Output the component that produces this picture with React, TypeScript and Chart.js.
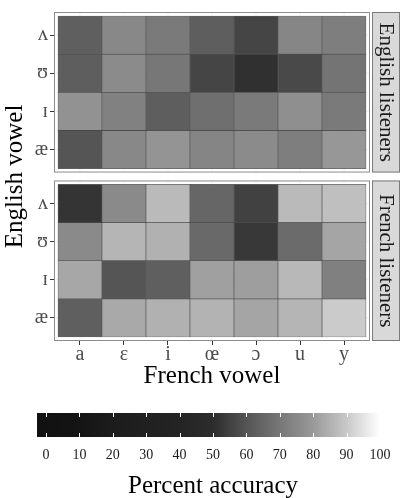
import React, { useEffect, useRef } from 'react';
import { Chart, registerables } from 'chart.js';

Chart.register(...registerables);

// ---------- data ----------
const frenchVowels = ['a', 'ɛ', 'i', 'œ', 'ɔ', 'u', 'y'];
const englishVowels = ['æ', 'ɪ', 'ʊ', 'ʌ']; // bottom to top
const panelNames = ['English listeners', 'French listeners'];

// percent accuracy, rows follow englishVowels, columns follow frenchVowels
const englishListeners = [
  [60, 75, 78.5, 74, 76, 72, 79.5],
  [78, 73, 62.5, 67.5, 71, 77, 71],
  [62.5, 76, 70, 56, 51, 57, 69],
  [63, 75, 71, 62.5, 56, 74.5, 72],
];
const frenchListeners = [
  [63, 83.5, 85, 85.5, 82.5, 86, 90.5],
  [83, 60, 63, 81.5, 81, 86.5, 72.5],
  [75.5, 86, 85, 66, 53, 66.5, 82.5],
  [52, 75.5, 87, 65, 55, 87, 88],
];

const legendTicks = [0, 10, 20, 30, 40, 50, 60, 70, 80, 90, 100];
const legendGrays = [17, 20, 28, 32, 36, 44, 85, 119, 153, 200, 255];

// ---------- layout / style ----------
const SERIF = "'Liberation Serif', 'DejaVu Serif', serif";
const ROW_PAD = 0.104;
const COL_PAD = 0.09;
const PANEL_GAP = 0.208;
const panelOffsets = [4 + 2 * ROW_PAD + PANEL_GAP, 0]; // English on top, French below
const X_MIN = -0.5 - COL_PAD;
const X_MAX = frenchVowels.length - 0.5 + COL_PAD;
const Y_MIN = -0.5 - ROW_PAD;
const Y_MAX = panelOffsets[0] + englishVowels.length - 0.5 + ROW_PAD;
const LEGEND_MIN = -2.7;
const LEGEND_MAX = 102.7;

function grayLevel(v: number): number {
  if (v <= legendTicks[0]) return legendGrays[0];
  for (let i = 1; i < legendTicks.length; i++) {
    if (v <= legendTicks[i]) {
      const t = (v - legendTicks[i - 1]) / (legendTicks[i] - legendTicks[i - 1]);
      return Math.round(legendGrays[i - 1] + t * (legendGrays[i] - legendGrays[i - 1]));
    }
  }
  return legendGrays[legendGrays.length - 1];
}
function grayFor(v: number): string {
  const g = grayLevel(v);
  return `rgb(${g},${g},${g})`;
}

const panelValues = [englishListeners, frenchListeners];

function panelExtent(p: number): [number, number] {
  return [panelOffsets[p] - 0.5 - ROW_PAD, panelOffsets[p] + englishVowels.length - 0.5 + ROW_PAD];
}

const yTickValues: number[] = [];
const yTickLabels: string[] = [];
[1, 0].forEach((p) => {
  englishVowels.forEach((v, r) => {
    yTickValues.push(panelOffsets[p] + r);
    yTickLabels.push(v);
  });
});

const panelsPlugin = {
  id: 'panels',
  beforeDatasetsDraw(chart: any) {
    const { ctx, scales } = chart;
    const x = scales.x;
    const y = scales.y;
    panelValues.forEach((_, p) => {
      const [lo, hi] = panelExtent(p);
      const top = y.getPixelForValue(hi);
      const bottom = y.getPixelForValue(lo);
      const left = x.getPixelForValue(X_MIN);
      const right = x.getPixelForValue(X_MAX);
      ctx.save();
      ctx.fillStyle = '#ffffff';
      ctx.fillRect(left, top, right - left, bottom - top);
      ctx.strokeStyle = '#ebebeb';
      ctx.lineWidth = 0.6;
      frenchVowels.forEach((_v, c) => {
        const px = x.getPixelForValue(c);
        ctx.beginPath();
        ctx.moveTo(px, top);
        ctx.lineTo(px, bottom);
        ctx.stroke();
      });
      englishVowels.forEach((_v, r) => {
        const py = y.getPixelForValue(panelOffsets[p] + r);
        ctx.beginPath();
        ctx.moveTo(left, py);
        ctx.lineTo(right, py);
        ctx.stroke();
      });
      ctx.restore();
    });
  },
  afterDatasetsDraw(chart: any) {
    const { ctx, scales } = chart;
    const x = scales.x;
    const y = scales.y;
    panelValues.forEach((_, p) => {
      const [lo, hi] = panelExtent(p);
      const top = y.getPixelForValue(hi);
      const bottom = y.getPixelForValue(lo);
      const left = x.getPixelForValue(X_MIN);
      const right = x.getPixelForValue(X_MAX);
      ctx.save();
      ctx.strokeStyle = '#8c8c8c';
      ctx.lineWidth = 1;
      ctx.strokeRect(left + 0.5, top + 0.5, right - left - 1, bottom - top - 1);
      // strip
      const sx = right + 2;
      const sw = 28;
      ctx.fillStyle = '#d9d9d9';
      ctx.fillRect(sx, top, sw, bottom - top);
      ctx.strokeStyle = '#7a7a7a';
      ctx.strokeRect(sx + 0.5, top + 0.5, sw - 1, bottom - top - 1);
      ctx.translate(sx + sw / 2, (top + bottom) / 2);
      ctx.rotate(Math.PI / 2);
      ctx.fillStyle = '#1a1a1a';
      ctx.font = `21px ${SERIF}`;
      ctx.textAlign = 'center';
      ctx.textBaseline = 'middle';
      ctx.fillText(panelNames[p], 0, 0);
      ctx.restore();
    });
  },
};

const legendMarksPlugin = {
  id: 'legendMarks',
  afterDatasetsDraw(chart: any) {
    const { ctx, chartArea, scales } = chart;
    const x = scales.x;
    ctx.save();
    ctx.strokeStyle = '#ffffff';
    ctx.lineWidth = 1;
    legendTicks.forEach((v) => {
      const px = Math.round(x.getPixelForValue(v)) + 0.5;
      ctx.beginPath();
      ctx.moveTo(px, chartArea.top);
      ctx.lineTo(px, chartArea.top + 4);
      ctx.moveTo(px, chartArea.bottom - 4);
      ctx.lineTo(px, chartArea.bottom);
      ctx.stroke();
    });
    ctx.restore();
  },
};

export default function App() {
  const mainRef = useRef<HTMLCanvasElement>(null);
  const barRef = useRef<HTMLCanvasElement>(null);

  useEffect(() => {
    const datasets = panelValues.map((rows, p) => {
      const data: any[] = [];
      const colors: string[] = [];
      rows.forEach((row, r) => {
        row.forEach((v, c) => {
          const center = panelOffsets[p] + r;
          data.push({ x: c, y: [center - 0.5, center + 0.5] });
          colors.push(grayFor(v));
        });
      });
      return {
        label: panelNames[p],
        data,
        backgroundColor: colors,
        borderColor: 'rgba(35,35,35,0.7)',
        borderWidth: 0.7,
        borderSkipped: false,
        grouped: false,
        barPercentage: 1,
        categoryPercentage: 1,
      };
    });

    const main = new Chart(mainRef.current as HTMLCanvasElement, {
      type: 'bar',
      data: { datasets: datasets as any },
      options: {
        responsive: false,
        animation: false,
        layout: { padding: { top: 8, right: 31, left: 0, bottom: 0 } },
        plugins: { legend: { display: false }, tooltip: { enabled: false } },
        scales: {
          x: {
            type: 'linear',
            offset: false,
            min: X_MIN,
            max: X_MAX,
            afterBuildTicks: (s: any) => {
              s.ticks = frenchVowels.map((_v, i) => ({ value: i }));
            },
            afterFit: (s: any) => {
              s.height = 57;
            },
            ticks: {
              autoSkip: false,
              maxRotation: 0,
              padding: 0,
              color: '#4d4d4d',
              font: { family: SERIF, size: 20, lineHeight: 1 },
              callback: (_v: any, i: number) => frenchVowels[i],
            },
            grid: {
              offset: false,
              drawOnChartArea: false,
              drawTicks: true,
              tickLength: 4,
              tickColor: '#333333',
              tickWidth: 1,
            },
            border: { display: false },
            title: {
              display: true,
              text: 'French vowel',
              color: '#000000',
              font: { family: SERIF, size: 25 },
              padding: { top: 0, bottom: 6.5 },
            },
          },
          y: {
            type: 'linear',
            offset: false,
            min: Y_MIN,
            max: Y_MAX,
            afterBuildTicks: (s: any) => {
              s.ticks = yTickValues.map((v) => ({ value: v }));
            },
            afterFit: (s: any) => {
              s.width = 54;
            },
            ticks: {
              autoSkip: false,
              padding: 2,
              color: '#4d4d4d',
              font: { family: SERIF, size: 20, lineHeight: 1 },
              callback: (_v: any, i: number) => yTickLabels[i],
            },
            grid: {
              drawOnChartArea: false,
              drawTicks: true,
              tickLength: 4,
              tickColor: '#333333',
              tickWidth: 1,
            },
            border: { display: false },
            title: {
              display: true,
              text: 'English vowel',
              color: '#000000',
              font: { family: SERIF, size: 25 },
              padding: { top: 0, bottom: 0 },
            },
          },
        },
      } as any,
      plugins: [panelsPlugin],
    });

    const bar = new Chart(barRef.current as HTMLCanvasElement, {
      type: 'bar',
      data: {
        labels: [''],
        datasets: [
          {
            label: 'Percent accuracy',
            data: [[LEGEND_MIN, LEGEND_MAX]] as any,
            borderWidth: 0,
            barPercentage: 1,
            categoryPercentage: 1,
            backgroundColor: (ctx: any) => {
              const chart = ctx.chart;
              const area = chart.chartArea;
              const xs = chart.scales.x;
              if (!area || !xs) return '#888';
              const g = chart.ctx.createLinearGradient(area.left, 0, area.right, 0);
              legendTicks.forEach((v, i) => {
                let pos = (xs.getPixelForValue(v) - area.left) / (area.right - area.left);
                pos = Math.max(0, Math.min(1, pos));
                const lvl = legendGrays[i];
                g.addColorStop(pos, `rgb(${lvl},${lvl},${lvl})`);
              });
              return g;
            },
          },
        ],
      },
      options: {
        indexAxis: 'y',
        responsive: false,
        animation: false,
        layout: { padding: { left: 37, right: 12, top: 13, bottom: 0 } },
        plugins: { legend: { display: false }, tooltip: { enabled: false } },
        scales: {
          x: {
            type: 'linear',
            min: LEGEND_MIN,
            max: LEGEND_MAX,
            afterBuildTicks: (s: any) => {
              s.ticks = legendTicks.map((v) => ({ value: v }));
            },
            afterFit: (s: any) => {
              s.height = 61;
            },
            ticks: {
              autoSkip: false,
              maxRotation: 0,
              padding: 10,
              color: '#1a1a1a',
              font: { family: SERIF, size: 14 },
            },
            grid: { display: false, drawTicks: false },
            border: { display: false },
            title: {
              display: true,
              text: 'Percent accuracy',
              color: '#000000',
              font: { family: SERIF, size: 25, lineHeight: 0.9 },
              padding: { top: 0, bottom: 0 },
            },
          },
          y: { display: false },
        },
      } as any,
      plugins: [legendMarksPlugin],
    });

    return () => {
      main.destroy();
      bar.destroy();
    };
  }, []);

  return (
    <div style={{ position: 'absolute', left: 0, top: 0, width: 401, height: 498, background: '#ffffff' }}>
      <canvas
        ref={mainRef}
        width={401}
        height={398}
        style={{ position: 'absolute', left: 0, top: 0, width: 401, height: 398 }}
      />
      <canvas
        ref={barRef}
        width={401}
        height={98}
        style={{ position: 'absolute', left: 0, top: 400, width: 401, height: 98 }}
      />
    </div>
  );
}
